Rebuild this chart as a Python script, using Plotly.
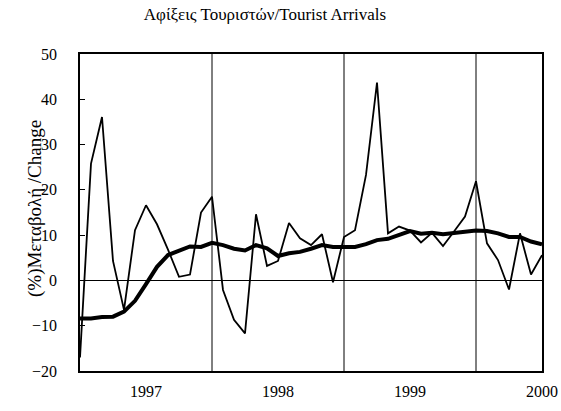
import plotly.graph_objects as go

months = [f"{y}-{m:02d}" for y, m in
          [(1996, m) for m in range(7, 13)] +
          [(1997, m) for m in range(1, 13)] +
          [(1998, m) for m in range(1, 13)] +
          [(1999, m) for m in range(1, 13)] +
          [(2000, 1)]]

monthly = [-17.0, 25.8, 36.1, 4.3, -6.5, 11.1, 16.6, 12.4, 6.8, 0.8, 1.3, 15.0,
           18.5, -2.1, -8.7, -11.7, 14.6, 3.2, 4.3, 12.7, 9.3, 7.8, 10.2, -0.4,
           9.6, 11.1, 23.3, 43.7, 10.4, 11.9, 11.0, 8.4, 10.5, 7.6, 10.8, 14.1,
           21.9, 8.2, 4.5, -2.0, 10.4, 1.3, 5.6]

trend = [-8.4, -8.4, -8.1, -8.0, -6.9, -4.5, -0.8, 3.0, 5.6, 6.6, 7.5, 7.4,
         8.3, 7.8, 7.0, 6.6, 7.8, 7.1, 5.4, 6.0, 6.3, 7.0, 7.8, 7.4,
         7.4, 7.4, 8.0, 8.9, 9.2, 10.0, 10.9, 10.3, 10.5, 10.2, 10.4, 10.6,
         11.0, 10.9, 10.4, 9.6, 9.6, 8.6, 8.0]

tick_months = ["1997-01", "1998-01", "1999-01", "2000-01"]
tick_labels = ["1997", "1998", "1999", "2000"]
divider_months = ["1997-07", "1998-07", "1999-07"]

font_family = "Liberation Serif"

fig = go.Figure()
fig.add_trace(go.Scatter(x=months, y=monthly, mode="lines",
                         line=dict(color="black", width=1.8), showlegend=False,
                         hoverinfo="skip"))
fig.add_trace(go.Scatter(x=months, y=trend, mode="lines",
                         line=dict(color="black", width=4), showlegend=False,
                         hoverinfo="skip"))

for m in divider_months:
    fig.add_shape(type="line", xref="x", yref="paper", x0=m, x1=m, y0=0, y1=1,
                  line=dict(color="black", width=1), layer="below")

fig.add_annotation(text="(%)Μεταβολή /Change", textangle=-90,
                   xref="paper", yref="paper", x=0, y=0.511,
                   xanchor="center", yanchor="middle", xshift=-45,
                   showarrow=False,
                   font=dict(family=font_family, size=19, color="black"))

fig.update_layout(
    width=561, height=411,
    margin=dict(l=80, r=19, t=54, b=40),
    paper_bgcolor="white", plot_bgcolor="white",
    font=dict(family=font_family, color="black", size=16),
    title=dict(text="Αφίξεις Τουριστών/Tourist Arrivals",
               x=265 / 561, xanchor="center", y=1 - 14 / 411, yanchor="middle",
               font=dict(family=font_family, size=17, color="black")),
)

fig.update_xaxes(
    type="category", categoryorder="array", categoryarray=months,
    range=[0, len(months) - 1],
    tickmode="array", tickvals=tick_months, ticktext=tick_labels,
    showgrid=False, zeroline=False, ticks="", automargin=False,
    showline=True, linecolor="black", linewidth=2, mirror=True,
    ticklabelstandoff=5,
    tickfont=dict(family=font_family, size=16),
)
fig.update_yaxes(
    range=[-20, 50], dtick=10, tick0=0, automargin=False,
    showgrid=False, zeroline=True, zerolinecolor="black", zerolinewidth=1,
    ticks="inside", ticklen=5, tickcolor="black",
    showline=True, linecolor="black", linewidth=1.5, mirror=True,
    ticklabelstandoff=18,
    tickfont=dict(family=font_family, size=16),
)

fig.write_html("out.html",
               config={"displayModeBar": False},
               post_script="document.body.style.margin='0';"
                           "document.body.style.overflow='hidden';")
